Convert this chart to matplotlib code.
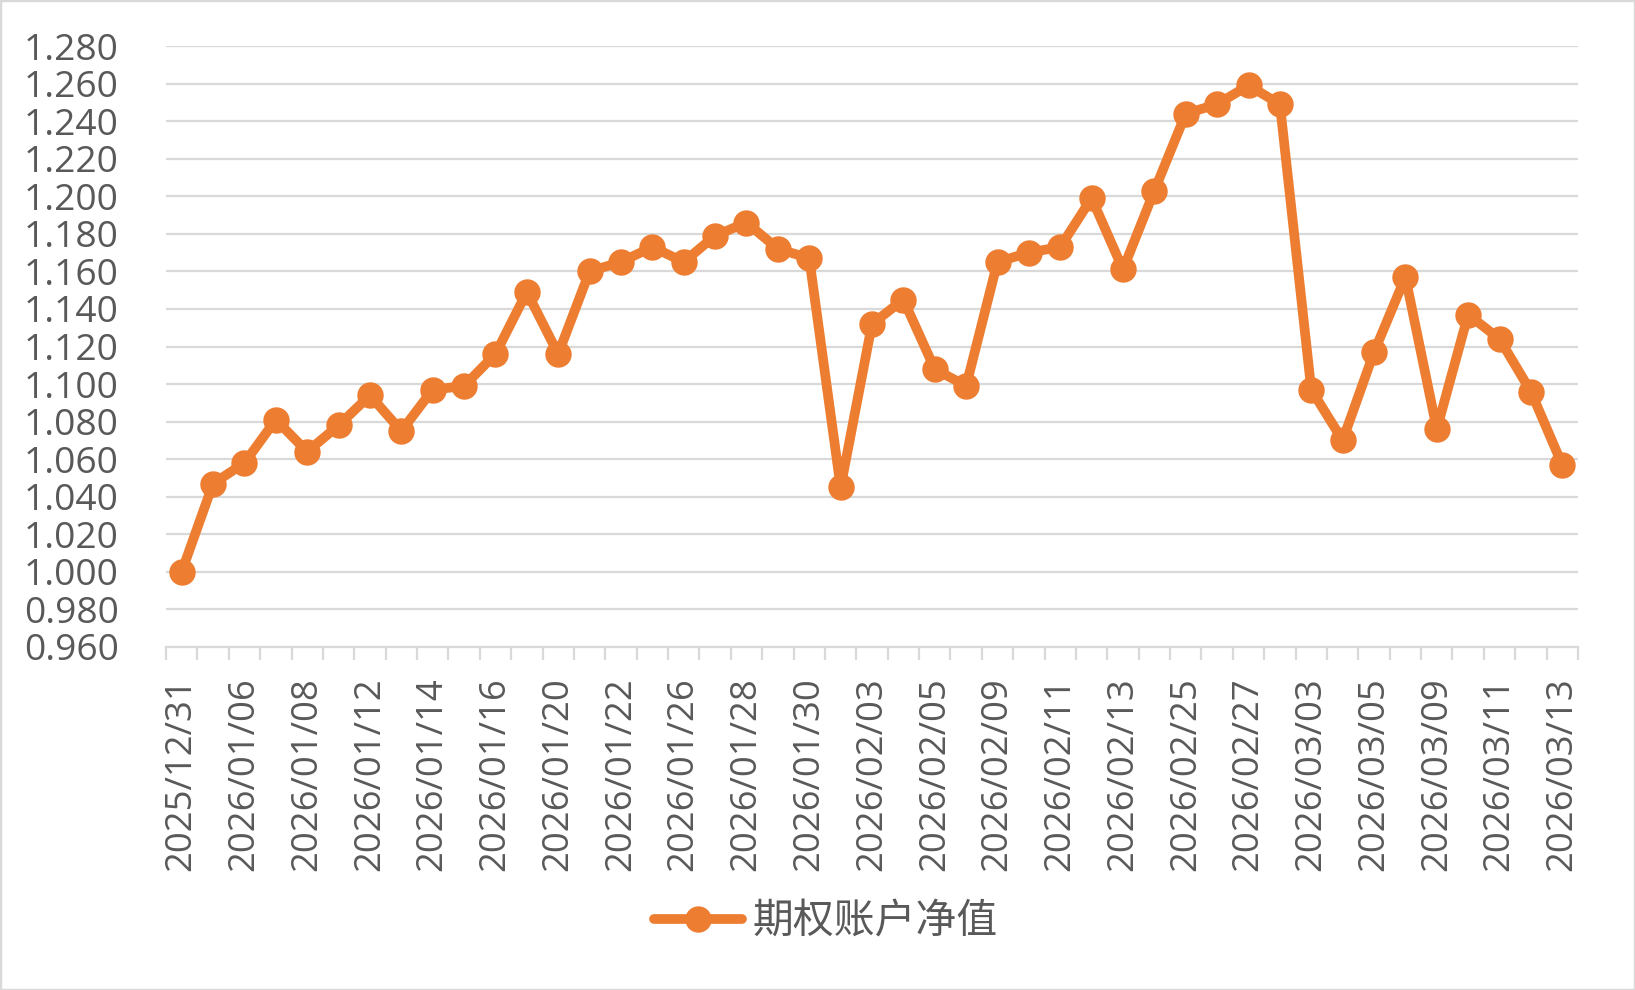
import matplotlib
matplotlib.use('Agg')
import matplotlib.pyplot as plt
from matplotlib.patches import Rectangle
import numpy as np

plt.rcParams['font.family'] = ['Open Sans', 'Noto Sans CJK SC', 'DejaVu Sans']

dates = ['2025/12/31', '2026/01/05', '2026/01/06', '2026/01/07', '2026/01/08', '2026/01/09',
         '2026/01/12', '2026/01/13', '2026/01/14', '2026/01/15', '2026/01/16', '2026/01/19',
         '2026/01/20', '2026/01/21', '2026/01/22', '2026/01/23', '2026/01/26', '2026/01/27',
         '2026/01/28', '2026/01/29', '2026/01/30', '2026/02/02', '2026/02/03', '2026/02/04',
         '2026/02/05', '2026/02/06', '2026/02/09', '2026/02/10', '2026/02/11', '2026/02/12',
         '2026/02/13', '2026/02/24', '2026/02/25', '2026/02/26', '2026/02/27', '2026/03/02',
         '2026/03/03', '2026/03/04', '2026/03/05', '2026/03/06', '2026/03/09', '2026/03/10',
         '2026/03/11', '2026/03/12', '2026/03/13']
nav = [1.000, 1.047, 1.058, 1.081, 1.064, 1.078, 1.094, 1.075, 1.097, 1.099, 1.116, 1.149,
       1.116, 1.160, 1.165, 1.173, 1.165, 1.179, 1.186, 1.172, 1.167, 1.045, 1.132, 1.145,
       1.108, 1.099, 1.165, 1.170, 1.173, 1.199, 1.161, 1.203, 1.244, 1.249, 1.259, 1.249,
       1.097, 1.070, 1.117, 1.157, 1.076, 1.137, 1.124, 1.096, 1.057]
series_name = '期权账户净值'
y_ticks = [0.960, 0.980, 1.000, 1.020, 1.040, 1.060, 1.080, 1.100, 1.120, 1.140, 1.160,
           1.180, 1.200, 1.220, 1.240, 1.260, 1.280]

ORANGE = '#ED7D31'
GRID = '#d9d9d9'
TXT = '#595959'

fig = plt.figure(figsize=(16.35, 9.9), dpi=100)
ax = fig.add_axes([166 / 1635, 1 - 647 / 990, (1578 - 166) / 1635, (647 - 46) / 990])

x = np.arange(len(dates))
ax.plot(x, nav, color=ORANGE, lw=7, marker='o', ms=18, solid_joinstyle='round',
        solid_capstyle='round', label=series_name, zorder=3)

ax.set_xlim(-0.5, len(dates) - 0.5)
ax.set_ylim(y_ticks[0], y_ticks[-1])
ax.set_yticks(y_ticks)
ax.set_yticklabels([f'{v:.3f}' for v in y_ticks])
ax.grid(axis='y', color=GRID, lw=1.6)
ax.set_axisbelow(True)

for s in ['top', 'right', 'left']:
    ax.spines[s].set_visible(False)
ax.spines['bottom'].set_color(GRID)
ax.spines['bottom'].set_linewidth(1.6)

ax.tick_params(axis='y', length=0, pad=34, labelsize=26.7, labelcolor=TXT)
ax.set_xticks(x[::2])
ax.set_xticklabels(dates[::2], rotation=90)
ax.tick_params(axis='x', which='major', length=0, pad=22, labelsize=26.3, labelcolor=TXT)
ax.set_xticks(np.arange(-0.5, len(dates), 1), minor=True)
ax.tick_params(axis='x', which='minor', length=9, width=1.6, color=GRID)

leg = fig.legend(loc='center', bbox_to_anchor=(0.505, 1 - 922 / 990), frameon=False,
                 prop={'family': ['Noto Sans CJK SC', 'DejaVu Sans'], 'size': 29.4},
                 handlelength=2.15, handletextpad=0.25)
for t in leg.get_texts():
    t.set_color(TXT)

fig.patches.append(Rectangle((0, 0), 1, 1, transform=fig.transFigure, fill=False,
                             ec=GRID, lw=2.5))

fig.savefig('out.png', dpi=100)
